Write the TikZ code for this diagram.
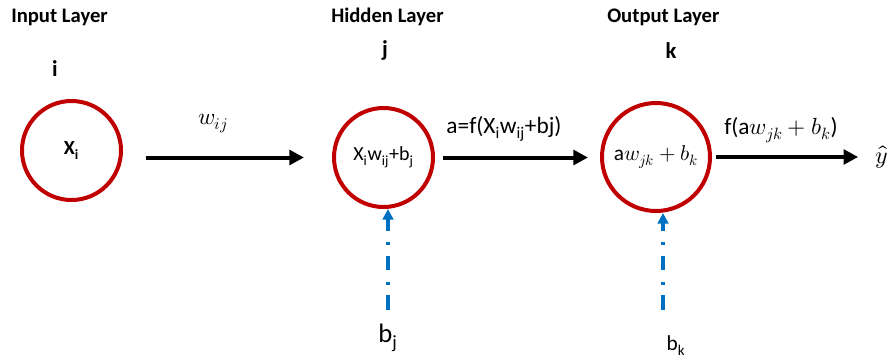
\documentclass[tikz,border=0pt]{standalone}
\usepackage{fontspec}
\usepackage{unicode-math}
\setmainfont{Carlito}
\setmathfont{Latin Modern Math}
\usetikzlibrary{arrows.meta}
\definecolor{neuronred}{RGB}{192,0,0}
\definecolor{biasblue}{RGB}{0,112,192}

\begin{document}
\begin{tikzpicture}[x=0.75pt,y=0.75pt,yscale=-1,
  neuron/.style={circle,draw=neuronred,line width=3pt,inner sep=0pt},
  flow/.style={line width=3pt,-{Triangle[length=11pt,width=11pt]}},
  bias/.style={draw=biasblue,line width=3pt,dash pattern=on 11pt off 8pt on 2.25pt off 8.5pt,-{Triangle[length=8pt,width=8pt]}},
  layer/.style={font=\fontsize{15.5}{18}\selectfont\bfseries,anchor=base west,inner sep=0pt},
  index/.style={font=\fontsize{17}{20}\selectfont\bfseries,anchor=base,inner sep=0pt},
  formula/.style={font=\fontsize{17.5}{21}\selectfont,anchor=base,inner sep=0pt}]
\useasboundingbox (0,0) rectangle (896,358);

% layer titles
\node[layer] (tin) at (11,22) {Input Layer};
\node[layer] (thid) at (331,22) {Hidden Layer};
\node[layer] (tout) at (607,22) {Output Layer};

% indices
\node[index] (idxi) at (55,76) {i};
\node[index] (idxj) at (385,56) {j};
\node[index] (idxk) at (671,58) {k};

% neurons
\node[neuron,minimum size=74.25pt,font=\fontsize{15}{18}\selectfont\bfseries] (ni) at (71.5,150.5) {X\textsubscript{i}};
\node[neuron,minimum size=74.25pt,font=\fontsize{15}{18}\selectfont] (nj) at (383.5,157.5) {X\textsubscript{i}w\textsubscript{ij}+b\textsubscript{j}};
\node[neuron,minimum size=81pt,font=\fontsize{16}{19}\selectfont] (nk) at (656,157) {a$w_{jk}+b_k$};

% output
\node[inner sep=0pt,font=\fontsize{18}{21}\selectfont] (yhat) at (882,157) {$\hat{y}$};

% connections
\draw[flow,shorten <=17.5pt,shorten >=21pt] (ni.east |- nj) -- (nj.west);
\draw[flow,shorten <=6pt,shorten >=9pt] (nj.east) -- (nk.west |- nj);
\draw[flow,shorten <=3pt,shorten >=13pt] (nk.east) -- (yhat.west |- nk);

% labels on connections
\node[formula] at (213,124) {$w_{ij}$};
\node[formula] at (504,133) {a=f(X\textsubscript{i}w\textsubscript{ij}+bj)};
\node[formula] at (781,134) {f(a$w_{jk}+b_k$)};

% bias inputs
\coordinate (bjtail) at (388,310);
\coordinate (bktail) at (663,310);
\draw[bias] (bjtail) -- (bjtail |- nj.south);
\draw[bias] (bktail) -- (bktail |- nk.south);
\node[font=\fontsize{20}{22}\selectfont,anchor=base,inner sep=0pt] (lbj) at (388,342) {b\textsubscript{j}};
\node[font=\fontsize{16}{18}\selectfont,anchor=base,inner sep=0pt] (lbk) at (676,350) {b\textsubscript{k}};
\end{tikzpicture}
\end{document}
